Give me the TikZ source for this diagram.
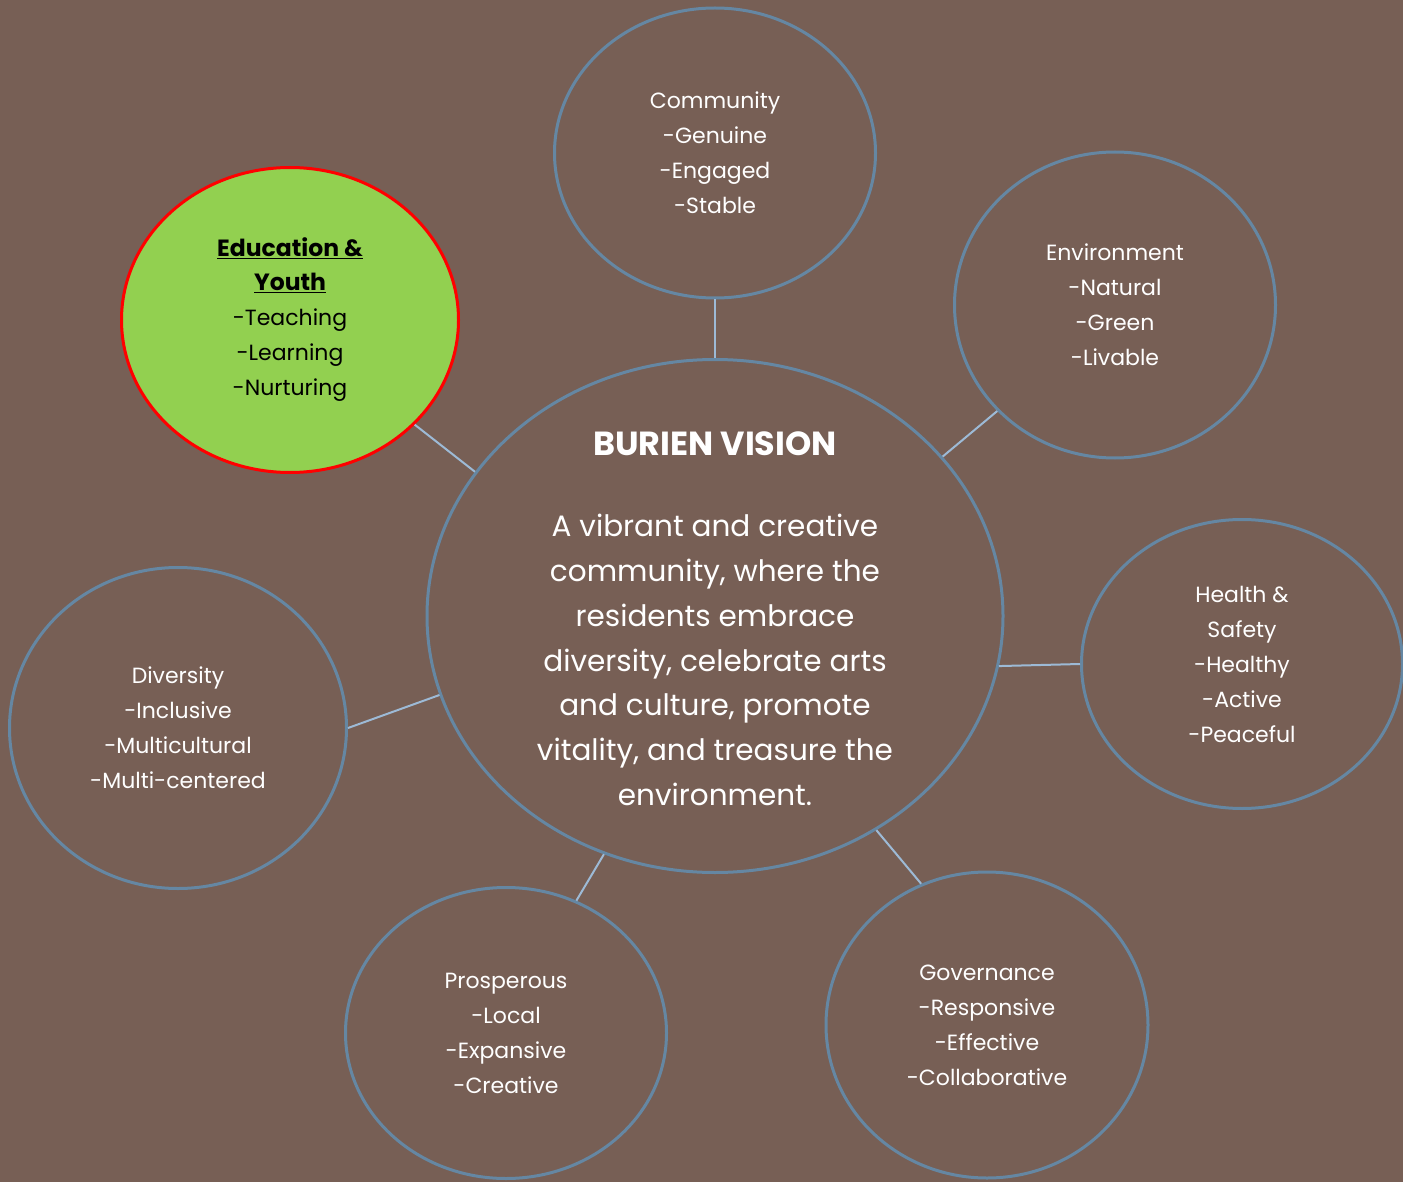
\documentclass[tikz,border=0pt]{standalone}
\usepackage{fontspec}
\setmainfont{Poppins}
\usetikzlibrary{shapes.geometric}
\definecolor{bg}{HTML}{775F55}
\definecolor{ringc}{HTML}{6587A3}
\definecolor{linkc}{HTML}{9DBAD6}
\definecolor{edgreen}{HTML}{92D050}
\begin{document}
\begin{tikzpicture}[x=1pt,y=-1pt,
  bubble/.style={ellipse,draw=ringc,line width=3pt,inner sep=0pt,align=center,text=white,
    font=\fontsize{22}{35}\selectfont},
  linkline/.style={draw=linkc,line width=2pt},
  plaintext/.style={inner sep=0pt,align=center,text=white}]
\fill[bg] (0,0) rectangle (1403,1182);
\useasboundingbox (0,0) rectangle (1403,1182);

\node[bubble,minimum width=576pt,minimum height=513pt] (cen) at (715,616) {};
\node[plaintext,font=\fontsize{33.4}{40}\selectfont\bfseries] (title) at (715,444) {BURIEN VISION};
\node[plaintext,font=\fontsize{29.5}{44.8}\selectfont] (body) at (715,660)
  {A vibrant and creative\\community, where the\\residents embrace\\diversity, celebrate arts\\and culture, promote\\vitality, and treasure the\\environment.};

\node[bubble,minimum width=321pt,minimum height=290pt] (com) at (715,153)
  {Community\\-Genuine\\-Engaged\\-Stable};
\node[bubble,minimum width=321pt,minimum height=306pt] (env) at (1115,305)
  {Environment\\-Natural\\-Green\\-Livable};
\node[bubble,draw=red,fill=edgreen,text=black,minimum width=337pt,minimum height=305pt] (edu) at (290,320)
  {{\fontsize{23.5}{35}\selectfont\bfseries\underline{Education \&}}\\[-1pt]{\fontsize{23.5}{35}\selectfont\bfseries\underline{Youth}}\\-Teaching\\-Learning\\-Nurturing};
\node[bubble,minimum width=321pt,minimum height=289pt] (hea) at (1242,664)
  {Health \&\\Safety\\-Healthy\\-Active\\-Peaceful};
\node[bubble,minimum width=337pt,minimum height=321pt] (div) at (178,728)
  {Diversity\\-Inclusive\\-Multicultural\\-Multi-centered};
\node[bubble,minimum width=321pt,minimum height=291pt] (pro) at (506,1033)
  {Prosperous\\-Local\\-Expansive\\-Creative};
\node[bubble,minimum width=322pt,minimum height=306pt] (gov) at (987,1025)
  {Governance\\-Responsive\\-Effective\\-Collaborative};

\draw[linkline] (com.south) -- (cen.north);
\draw[linkline] (env.222.9) -- (cen.35.2);
\draw[linkline] (edu.-40.7) -- (cen.149.2);
\draw[linkline] (cen.-10.6) -- (hea.west);
\draw[linkline] (div.east) -- (cen.196.5);
\draw[linkline] (pro.62.9) -- (cen.245.1);
\draw[linkline] (gov.115.4) -- (cen.307.6);
\end{tikzpicture}
\end{document}
